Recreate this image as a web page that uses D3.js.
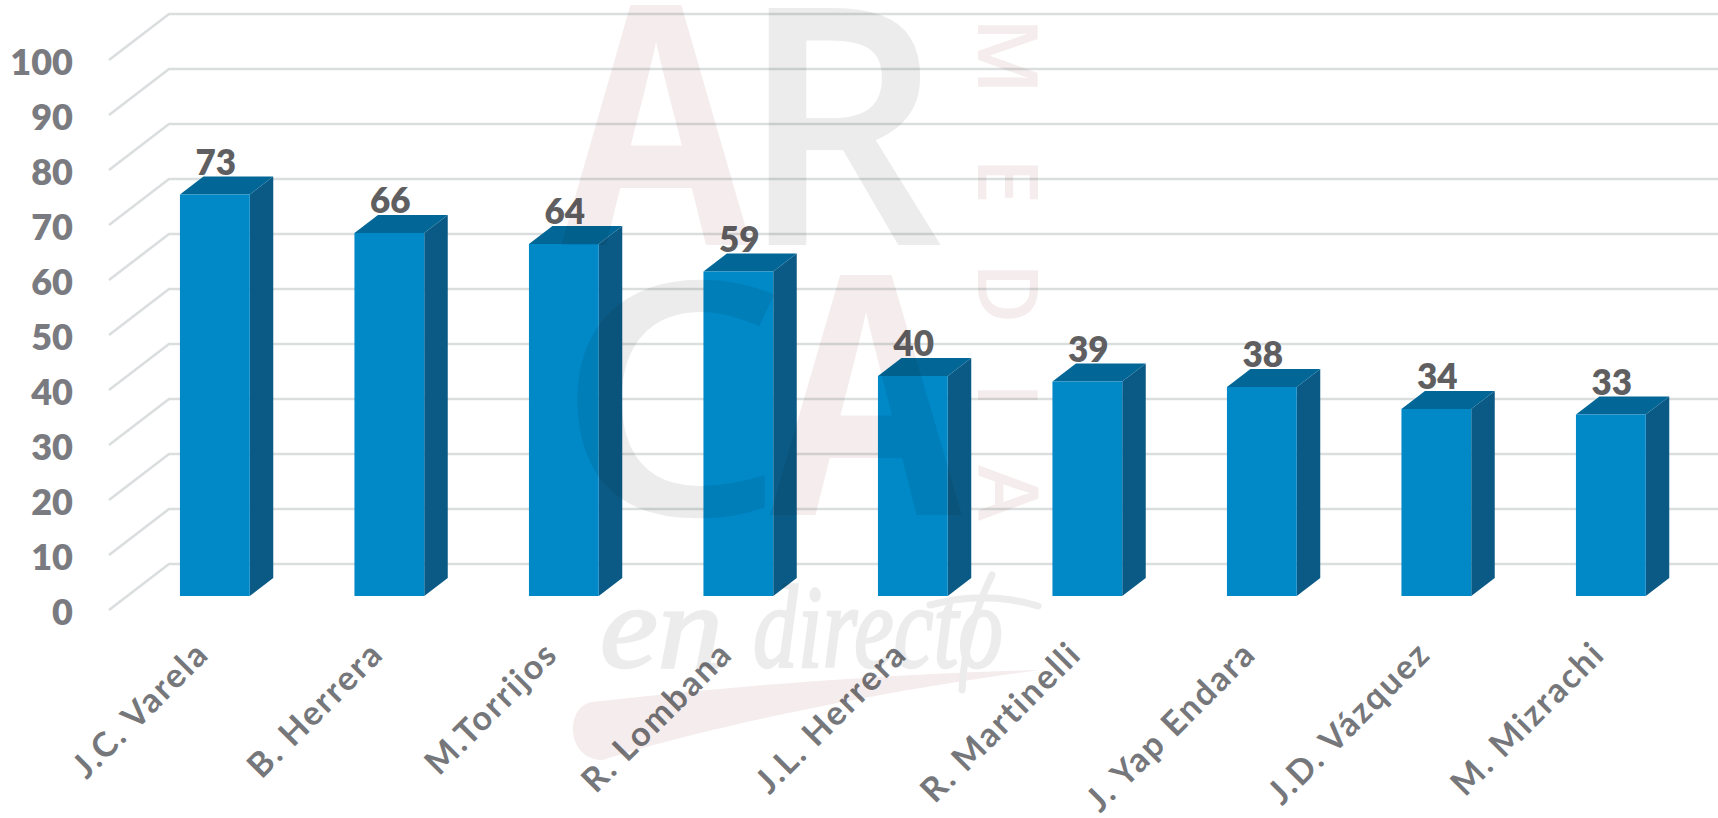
<!DOCTYPE html>
<html>
<head>
<meta charset="utf-8">
<script src="https://cdn.jsdelivr.net/npm/d3@7"></script>
<style>
body { margin: 0; background: #fff; overflow: hidden; }
text { font-family: Lato, "Open Sans", sans-serif; font-weight: 800; }
</style>
</head>
<body>
<div id="container"></div>
<script>
// chart data
let names = ['J.C. Varela', 'B. Herrera', 'M.Torrijos', 'R. Lombana', 'J.L. Herrera', 'R. Martinelli', 'J. Yap Endara', 'J.D. Vázquez', 'M. Mizrachi']
let votes = [73, 66, 64, 59, 40, 39, 38, 34, 33]
let ticks = [0, 10, 20, 30, 40, 50, 60, 70, 80, 90, 100]

let width = 1718
let height = 818

// 3d look: wall is 60 x 46 deep, the bars sit in the middle of it
let wall = { dx: 60, dy: 46 }
let depth = { dx: 23.5, dy: 18 }

let svg = d3.select('#container').append('svg')
    .attr('width', width)
    .attr('height', height)
    .style('display', 'block')

let x = d3.scaleBand()
    .domain(names)
    .range([127.6, 127.6 + 9 * 174.5])
    .paddingInner(0.6)
    .paddingOuter(0.3)

let yFront = d3.scaleLinear().domain([0, 100]).range([610, 60])
let yBack = d3.scaleLinear().domain([0, 100]).range([564, 14])
let yBar = d3.scaleLinear().domain([0, 100]).range([596, 46])

// grid
let grid = svg.append('g')
    .attr('fill', 'none')
    .attr('stroke', '#dadedf')
    .attr('stroke-width', 2.6)
grid.selectAll('path')
    .data(ticks)
    .join('path')
    .attr('d', d => d3.line()([[109, yFront(d)], [109 + wall.dx, yBack(d)], [width, yBack(d)]]))

// value axis
let yAxis = svg.append('g')
    .attr('transform', 'translate(73,3)')
    .call(d3.axisLeft(yFront).tickValues(ticks).tickSize(0).tickPadding(0))
yAxis.select('.domain').remove()
yAxis.selectAll('text')
    .attr('fill', '#7a7b80')
    .style('font-size', '36px')

// category axis
let xAxis = svg.append('g')
    .attr('transform', 'translate(0,620)')
    .call(d3.axisBottom(x).tickSize(0).tickPadding(0))
xAxis.select('.domain').remove()
xAxis.selectAll('text')
    .attr('fill', '#76777b')
    .attr('text-anchor', 'end')
    .attr('dy', 0)
    .attr('transform', 'translate(-4,36) rotate(-45)')
    .style('font-size', '34px')
    .style('font-weight', 700)
    .style('letter-spacing', '2px')

// bars
let bars = svg.append('g')
    .selectAll('g')
    .data(votes)
    .join('g')
    .attr('transform', (d, i) => `translate(${x(names[i])},0)`)

let w = x.bandwidth()
bars.append('polygon')
    .attr('fill', '#0a5a85')
    .attr('points', d => [[w, yBar(d)], [w + depth.dx, yBar(d) - depth.dy], [w + depth.dx, yBar(0) - depth.dy], [w, yBar(0)]].join(' '))
bars.append('polygon')
    .attr('fill', '#026797')
    .attr('points', d => [[0, yBar(d)], [depth.dx, yBar(d) - depth.dy], [w + depth.dx, yBar(d) - depth.dy], [w, yBar(d)]].join(' '))
bars.append('rect')
    .attr('fill', '#0088c7')
    .attr('width', w)
    .attr('y', d => yBar(d))
    .attr('height', d => yBar(0) - yBar(d))

bars.append('text')
    .attr('x', w / 2 + 1)
    .attr('y', d => yBar(d) - depth.dy - 2)
    .attr('text-anchor', 'middle')
    .attr('fill', '#5f5f62')
    .style('font-size', '35px')
    .text(d => d)

// watermark on top of everything, multiply so the chart shows through
let mark = svg.append('g')
    .style('mix-blend-mode', 'multiply')
    .style('pointer-events', 'none')

let pink = '#f5eded'
let gray = '#ececec'

function bigLetter(t, px, py, size, sx, color, weight) {
    mark.append('text')
        .attr('transform', `translate(${px},${py}) scale(${sx},1)`)
        .attr('text-anchor', 'middle')
        .attr('fill', color)
        .style('font-family', '"Open Sans"')
        .style('font-weight', weight)
        .style('font-size', size + 'px')
        .text(t)
}
bigLetter('A', 656, 245, 335, 0.82, pink, 700)
bigLetter('R', 841, 245, 332, 0.965, gray, 600)
bigLetter('C', 671, 515, 325, 1.12, gray, 600)
bigLetter('A', 866, 515, 335, 0.83, pink, 700)

let media = [['M', 56], ['E', 181], ['D', 293], ['I', 395], ['A', 493]]
mark.selectAll('.media')
    .data(media)
    .join('text')
    .attr('class', 'media')
    .attr('transform', d => `translate(978,${d[1]}) rotate(90)`)
    .attr('text-anchor', 'middle')
    .attr('fill', pink)
    .style('font-family', '"Open Sans"')
    .style('font-weight', 600)
    .style('font-size', '84px')
    .text(d => d[0])

mark.append('path')
    .attr('fill', pink)
    .attr('d', 'M1040,670 C850,675 700,690 592,702 C565,706 565,760 603,760 C680,735 850,695 1040,670 Z')

// script part of the logo, closest installed face is a serif italic
let script = [['en', 600, 123], ['directo', 753, 250]]
mark.selectAll('.script')
    .data(script)
    .join('text')
    .attr('class', 'script')
    .attr('x', d => d[1])
    .attr('y', 667)
    .attr('fill', gray)
    .attr('stroke', gray)
    .attr('stroke-width', 2.5)
    .attr('textLength', d => d[2])
    .attr('lengthAdjust', 'spacingAndGlyphs')
    .style('font-family', '"Liberation Serif"')
    .style('font-style', 'italic')
    .style('font-weight', 400)
    .style('font-size', '118px')
    .text(d => d[0])

mark.append('path')
    .attr('fill', 'none')
    .attr('stroke', gray)
    .attr('stroke-width', 7)
    .attr('stroke-linecap', 'round')
    .attr('d', 'M930,605 Q985,590 1038,606 M992,575 Q965,630 962,690')
</script>
</body>
</html>
